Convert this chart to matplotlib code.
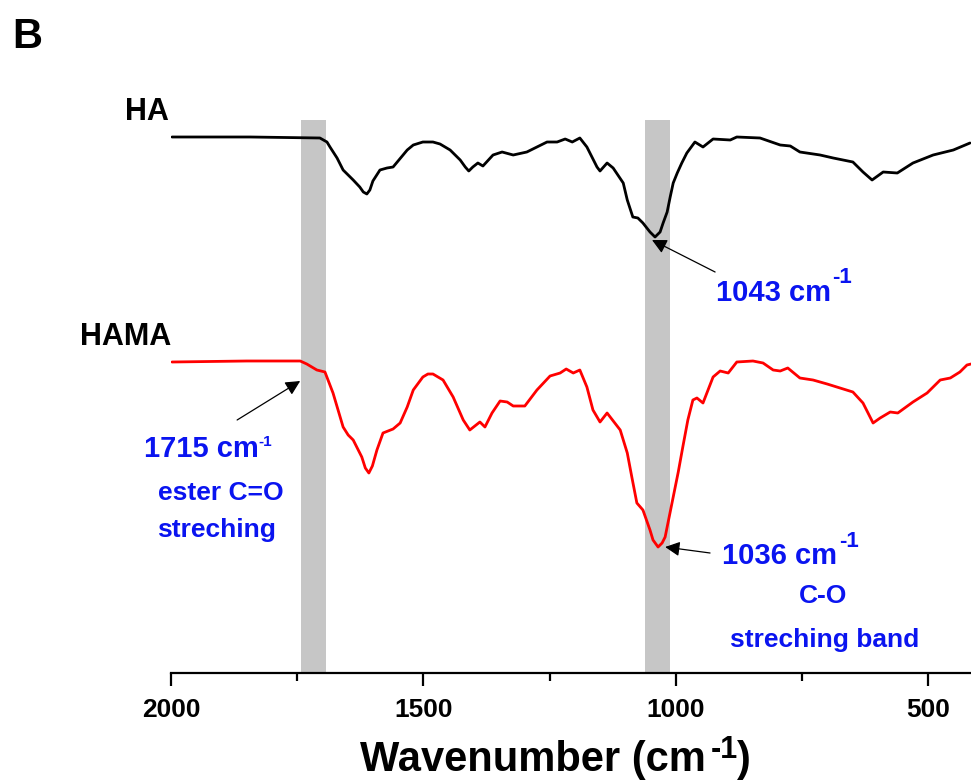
import matplotlib
matplotlib.use("Agg")
import matplotlib.pyplot as plt
from matplotlib.ticker import MultipleLocator

plt.rcParams["font.family"] = ["Liberation Sans", "DejaVu Sans"]

# FTIR spectra: (wavenumber cm-1, transmittance a.u., offset)
ha_points = [
    (1998, 5.36), (1843, 5.36), (1705, 5.35), (1691, 5.31), (1685, 5.26),
    (1671, 5.15), (1659, 5.03), (1639, 4.93), (1626, 4.86), (1619, 4.81),
    (1612, 4.79), (1606, 4.83), (1600, 4.92), (1586, 5.03), (1572, 5.05),
    (1560, 5.06), (1532, 5.23), (1520, 5.28), (1501, 5.31), (1481, 5.31),
    (1467, 5.29), (1447, 5.23), (1427, 5.13), (1417, 5.06), (1410, 5.02),
    (1402, 5.06), (1392, 5.10), (1382, 5.07), (1362, 5.18), (1344, 5.21),
    (1322, 5.18), (1295, 5.21), (1255, 5.31), (1235, 5.31), (1219, 5.34),
    (1205, 5.31), (1190, 5.35), (1176, 5.26), (1156, 5.06), (1150, 5.02),
    (1136, 5.10), (1124, 5.05), (1104, 4.90), (1096, 4.73), (1085, 4.56),
    (1075, 4.55), (1065, 4.50), (1051, 4.41), (1041, 4.36), (1031, 4.41),
    (1025, 4.50), (1017, 4.61), (1011, 4.76), (1005, 4.90), (997, 5.00),
    (988, 5.10), (978, 5.20), (962, 5.31), (946, 5.26), (926, 5.34),
    (892, 5.33), (879, 5.36), (833, 5.35), (793, 5.28), (773, 5.27),
    (754, 5.21), (714, 5.18), (688, 5.15), (649, 5.11), (629, 5.01),
    (611, 4.93), (589, 5.01), (561, 5.00), (530, 5.10), (490, 5.18),
    (450, 5.23), (417, 5.30),
]
hama_points = [
    (1998, 3.11), (1850, 3.12), (1744, 3.12), (1731, 3.09), (1711, 3.03),
    (1695, 3.01), (1679, 2.80), (1669, 2.63), (1659, 2.46), (1649, 2.38),
    (1639, 2.33), (1622, 2.16), (1615, 2.05), (1608, 2.00), (1601, 2.07),
    (1592, 2.23), (1580, 2.40), (1560, 2.44), (1546, 2.50), (1532, 2.66),
    (1520, 2.83), (1501, 2.96), (1491, 2.99), (1481, 2.99), (1461, 2.93),
    (1441, 2.76), (1421, 2.53), (1408, 2.43), (1388, 2.51), (1378, 2.46),
    (1364, 2.60), (1348, 2.72), (1334, 2.71), (1322, 2.67), (1299, 2.67),
    (1275, 2.83), (1249, 2.97), (1229, 3.00), (1217, 3.04), (1203, 3.00),
    (1190, 3.03), (1176, 2.86), (1164, 2.63), (1150, 2.51), (1136, 2.60),
    (1110, 2.43), (1096, 2.20), (1087, 1.96), (1077, 1.70), (1065, 1.63),
    (1051, 1.43), (1045, 1.33), (1035, 1.26), (1027, 1.30), (1021, 1.36),
    (1005, 1.76), (995, 2.01), (986, 2.26), (976, 2.53), (966, 2.73),
    (958, 2.75), (946, 2.70), (926, 2.96), (912, 3.02), (896, 3.00),
    (879, 3.11), (847, 3.12), (827, 3.10), (807, 3.03), (793, 3.02),
    (778, 3.05), (754, 2.95), (728, 2.93), (700, 2.89), (649, 2.81),
    (629, 2.70), (609, 2.50), (595, 2.55), (575, 2.61), (560, 2.60),
    (530, 2.71), (502, 2.80), (476, 2.93), (456, 2.95), (437, 3.01),
    (423, 3.08), (415, 3.09),
]

# shaded bands (cm-1)
bands = [(1742, 1693), (1060, 1012)]

W, H = 971, 780


def fx(x):
    return x / W


def fy(y):
    return 1 - y / H


fig = plt.figure(figsize=(W / 100, H / 100), dpi=100)
ax = fig.add_axes([fx(171), fy(673), 1 - fx(171), (673 - 120) / H])

for lo, hi in bands:
    ax.axvspan(hi, lo, color="#c6c6c6", lw=0, zorder=0)

line_kw = dict(lw=2.0, zorder=3, solid_joinstyle="round", solid_capstyle="round")
ha_wn, ha_t = zip(*ha_points)
hama_wn, hama_t = zip(*hama_points)
ax.plot(ha_wn, ha_t, color="black", **line_kw)
ax.plot(hama_wn, hama_t, color="red", **line_kw)

ax.set_xlim(2000, 415)
ax.set_ylim(0, 5.53)
for s in ["left", "right", "top"]:
    ax.spines[s].set_visible(False)
ax.spines["bottom"].set_linewidth(1.6)
ax.set_yticks([])
ax.xaxis.set_major_locator(MultipleLocator(500))
ax.xaxis.set_minor_locator(MultipleLocator(250))
ax.tick_params(axis="x", which="major", direction="out", length=9, width=1.6,
               pad=9, labelsize=19)
ax.tick_params(axis="x", which="minor", direction="out", length=6, width=1.6)
for lab in ax.get_xticklabels():
    lab.set_fontweight("bold")

# arrows
arrow = dict(arrowstyle="-|>", color="black", lw=0.9, mutation_scale=22,
             shrinkA=0, shrinkB=0)
ax.annotate("", xy=(1047, 4.33), xytext=(922, 4.01), arrowprops=arrow)
ax.annotate("", xy=(1744, 2.92), xytext=(1869, 2.53), arrowprops=arrow)
ax.annotate("", xy=(1021, 1.26), xytext=(932, 1.20), arrowprops=arrow)

blue = "#0a14f0"
bold = dict(fontweight="bold", va="baseline")
fig.text(fx(12), fy(48), "B", fontsize=30, **bold)
fig.text(fx(169), fy(120), "HA", fontsize=22, ha="right", **bold)
fig.text(fx(171), fy(345), "HAMA", fontsize=22, ha="right", **bold)

fig.text(fx(716), fy(301), "1043 cm", fontsize=21, color=blue, **bold)
fig.text(fx(832), fy(283), "-1", fontsize=16, color=blue, **bold)

fig.text(fx(144), fy(457), "1715 cm", fontsize=21, color=blue, **bold)
fig.text(fx(258), fy(446), "-1", fontsize=11, color=blue, **bold)
fig.text(fx(221), fy(500), "ester C=O", fontsize=19, color=blue, ha="center", **bold)
fig.text(fx(216), fy(537), "streching", fontsize=19, color=blue, ha="center", **bold)

fig.text(fx(722), fy(564), "1036 cm", fontsize=21, color=blue, **bold)
fig.text(fx(839), fy(547), "-1", fontsize=16, color=blue, **bold)
fig.text(fx(823), fy(603), "C-O", fontsize=19, color=blue, ha="center", **bold)
fig.text(fx(825), fy(647), "streching band", fontsize=19, color=blue, ha="center", **bold)

# x axis title with raised "-1"
fig.text(fx(706), fy(771), "Wavenumber (cm", fontsize=30, ha="right", **bold)
fig.text(fx(711), fy(758), "-1", fontsize=22, **bold)
fig.text(fx(737), fy(771), ")", fontsize=30, **bold)

fig.savefig("out.png", dpi=100)
